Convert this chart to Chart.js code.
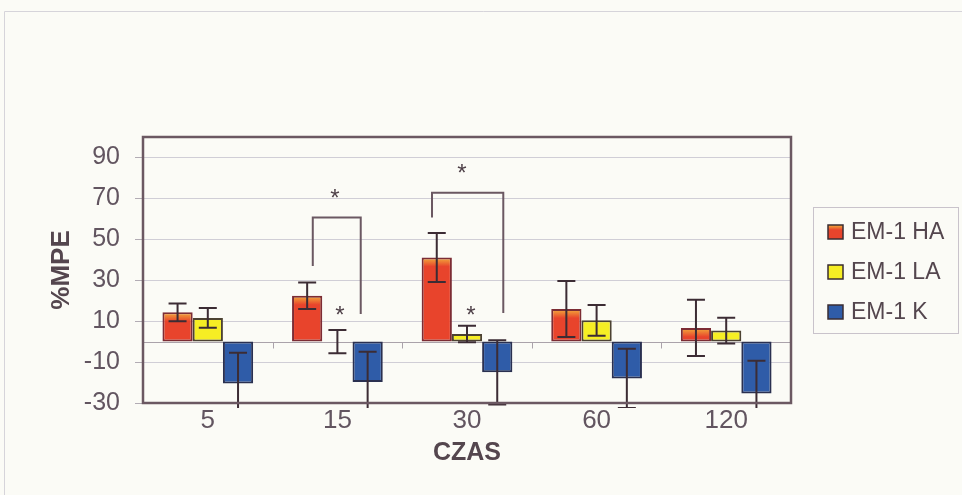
<!DOCTYPE html>
<html>
<head>
<meta charset="utf-8">
<script src="https://cdn.jsdelivr.net/npm/chart.js@4"></script>
<style>
  html, body { margin: 0; background: #fbfbf6; }
  canvas { display: block; }
</style>
</head>
<body>
<canvas id="chart" width="962" height="495"></canvas>
<script>
const categories = ['5', '15', '30', '60', '120'];
const seriesNames = ['EM-1 HA', 'EM-1 LA', 'EM-1 K'];
const haValues = [14.3, 22.4, 41.1, 15.9, 6.7];
const haErrors = [4.3, 6.5, 12.0, 13.7, 13.7];
const laValues = [11.6, 0.0, 3.7, 10.4, 5.4];
const laErrors = [4.8, 5.7, 4.0, 7.5, 6.3];
const kValues = [-20.5, -19.7, -15.0, -18.0, -25.4];
const kErrors = [15.0, 14.7, 15.7, 14.5, 16.0];
const yTicks = [-30, -10, 10, 30, 50, 70, 90];

// significance brackets (offsets in category widths, heights in %MPE)
const brackets = [
  { cat: 1, left: -0.19, right: 0.18, leftFrom: 37, top: 60.6, rightTo: 13.5 },
  { cat: 2, left: -0.27, right: 0.28, leftFrom: 60.6, top: 72.8, rightTo: 14 }
];
const stars = [
  { cat: 1, dx: -0.02, y: 73.3 },
  { cat: 2, dx: -0.04, y: 85.5 },
  { cat: 1, dx: 0.02, y: 16 },
  { cat: 2, dx: 0.03, y: 16 }
];

const FONT = '"Liberation Sans", Arial, sans-serif';
const INK = '#6b5862';
const TEXT = '#54464e';
const errorSets = [haErrors, laErrors, kErrors];

Chart.defaults.font.family = FONT;

function redFill(ctx) {
  const chart = ctx.chart;
  if (!chart.chartArea || ctx.type !== 'data') return '#e8442c';
  const top = chart.scales.y.getPixelForValue(ctx.parsed.y);
  const g = chart.ctx.createLinearGradient(0, top, 0, top + 9);
  g.addColorStop(0, '#f3b03c');
  g.addColorStop(1, '#e8442c');
  return g;
}

const decor = {
  id: 'decor',
  beforeDraw(chart) {
    const c = chart.ctx;
    c.save();
    c.fillStyle = '#fbfbf6';
    c.fillRect(0, 0, chart.width, chart.height);
    c.strokeStyle = '#d6d4da';
    c.lineWidth = 1;
    c.beginPath();
    c.moveTo(4.5, chart.height);
    c.lineTo(4.5, 11.5);
    c.lineTo(chart.width, 11.5);
    c.stroke();
    c.restore();
  },
  beforeDatasetsDraw(chart) {
    // category axis at zero with boundary ticks
    const { ctx: c, chartArea: a, scales: { y } } = chart;
    const y0 = Math.round(y.getPixelForValue(0)) + 0.5;
    const w = (a.right - a.left) / categories.length;
    c.save();
    c.strokeStyle = '#aaa2aa';
    c.lineWidth = 1;
    c.beginPath();
    c.moveTo(a.left, y0);
    c.lineTo(a.right, y0);
    for (let i = 1; i < categories.length; i++) {
      const px = Math.round(a.left + i * w) + 0.5;
      c.moveTo(px, y0);
      c.lineTo(px, y0 + 6);
    }
    c.stroke();
    c.restore();
  },
  afterDatasetsDraw(chart) {
    const { ctx: c, chartArea: a, scales: { x, y } } = chart;

    // error bars
    c.save();
    c.beginPath();
    c.rect(a.left, a.top - 5, a.right - a.left, a.bottom - a.top + 10);
    c.clip();
    c.strokeStyle = '#3c2c34';
    c.lineWidth = 2;
    chart.data.datasets.forEach((ds, di) => {
      chart.getDatasetMeta(di).data.forEach((bar, i) => {
        const v = ds.data[i], e = errorSets[di][i];
        const hi = y.getPixelForValue(v + e);
        const lo = y.getPixelForValue(v - e);
        c.beginPath();
        c.moveTo(bar.x, hi); c.lineTo(bar.x, lo);
        c.moveTo(bar.x - 9, hi); c.lineTo(bar.x + 9, hi);
        c.moveTo(bar.x - 9, lo); c.lineTo(bar.x + 9, lo);
        c.stroke();
      });
    });
    c.restore();

    // plot frame
    c.save();
    c.strokeStyle = INK;
    c.lineWidth = 2.5;
    c.strokeRect(a.left, a.top, a.right - a.left, a.bottom - a.top);

    // brackets and asterisks
    const cw = (a.right - a.left) / categories.length;
    c.lineWidth = 2;
    brackets.forEach(b => {
      const cx = x.getPixelForValue(b.cat);
      const xl = cx + b.left * cw, xr = cx + b.right * cw;
      c.beginPath();
      c.moveTo(xl, y.getPixelForValue(b.leftFrom));
      c.lineTo(xl, y.getPixelForValue(b.top));
      c.lineTo(xr, y.getPixelForValue(b.top));
      c.lineTo(xr, y.getPixelForValue(b.rightTo));
      c.stroke();
    });
    c.fillStyle = '#4e4048';
    c.font = '24px ' + FONT;
    c.textAlign = 'center';
    c.textBaseline = 'alphabetic';
    stars.forEach(s => {
      c.fillText('*', x.getPixelForValue(s.cat) + s.dx * cw, y.getPixelForValue(s.y) + 14);
    });
    c.restore();
  },
  afterDraw(chart) {
    // legend box
    const { ctx: c, chartArea: a } = chart;
    const left = a.right + 22, top = 207;
    c.save();
    c.strokeStyle = '#c9c3cb';
    c.lineWidth = 1;
    c.strokeRect(left + 0.5, top + 0.5, 145, 126);
    c.font = '23px ' + FONT;
    c.textBaseline = 'middle';
    c.textAlign = 'left';
    chart.data.datasets.forEach((ds, i) => {
      const cy = top + 25 + i * 40;
      if (i === 0) {
        const g = c.createLinearGradient(0, cy - 7, 0, cy + 7);
        g.addColorStop(0, '#f3b03c');
        g.addColorStop(0.35, '#e8442c');
        g.addColorStop(1, '#e8442c');
        c.fillStyle = g;
      } else {
        c.fillStyle = ds.backgroundColor;
      }
      c.fillRect(left + 15, cy - 7, 15, 14);
      c.strokeStyle = '#3a2c32';
      c.lineWidth = 1.5;
      c.strokeRect(left + 15, cy - 7, 15, 14);
      c.fillStyle = TEXT;
      c.fillText(ds.label, left + 38, cy + 1);
    });
    c.restore();
  }
};

const barStyle = {
  borderWidth: 2,
  borderSkipped: false,
  categoryPercentage: 0.70,
  barPercentage: 1.0
};

new Chart(document.getElementById('chart'), {
  type: 'bar',
  data: {
    labels: categories,
    datasets: [
      { label: seriesNames[0], data: haValues, backgroundColor: redFill, borderColor: '#7c2c34', ...barStyle },
      { label: seriesNames[1], data: laValues, backgroundColor: '#f6ee24', borderColor: '#4c4232', ...barStyle },
      { label: seriesNames[2], data: kValues, backgroundColor: '#2f5ca8', borderColor: '#2a3050', ...barStyle }
    ]
  },
  options: {
    responsive: false,
    animation: false,
    layout: { padding: { top: 137, right: 171, left: 0, bottom: 0 } },
    plugins: { legend: { display: false }, tooltip: { enabled: false } },
    scales: {
      x: {
        grid: { display: false },
        border: { display: false },
        afterFit(s) { s.height = 92; },
        ticks: { padding: -6, color: '#625560', font: { size: 26 } },
        title: {
          display: true, text: 'CZAS', color: TEXT,
          font: { size: 25, weight: 'bold' },
          padding: { top: 0, bottom: 27 }
        }
      },
      y: {
        min: -30,
        max: 100,
        afterBuildTicks(s) { s.ticks = yTicks.map(v => ({ value: v })); },
        afterFit(s) { s.width = 143; },
        grid: { color: '#d0ced6', tickColor: '#b2acb4', tickLength: 8, lineWidth: 1 },
        border: { display: false },
        ticks: { padding: 15, color: '#625560', font: { size: 25 } },
        title: {
          display: true, text: '%MPE', color: TEXT,
          font: { size: 26, weight: 'bold' },
          padding: { top: 46, bottom: 0 }
        }
      }
    }
  },
  plugins: [decor]
});
</script>
</body>
</html>
